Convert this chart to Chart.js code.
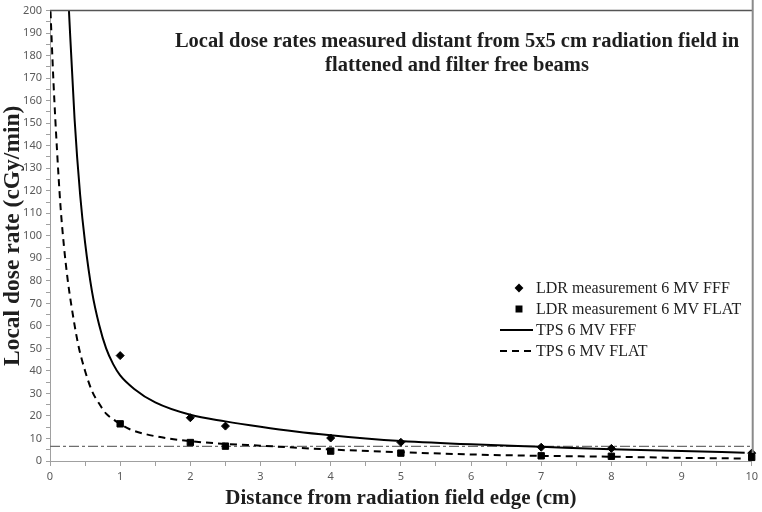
<!DOCTYPE html>
<html>
<head>
<meta charset="utf-8">
<script src="https://cdn.jsdelivr.net/npm/chart.js@4/dist/chart.umd.min.js"></script>
<style>
  html, body { margin: 0; padding: 0; background: #fff; }
  #wrap { width: 762px; height: 512px; }
</style>
</head>
<body>
<div id="wrap"><canvas id="doseChart" width="762" height="512"></canvas></div>
<script>
'use strict';

// ---- data ----
const measureX   = [1, 2, 2.5, 4, 5, 7, 8, 10];
const ldrFFF     = [46.8, 19.2, 15.5, 10.2, 8.3, 6.1, 5.6, 3.5];
const ldrFLAT    = [16.5, 8.2, 6.6, 4.4, 3.5, 2.3, 2.1, 1.6];

const tpsFFFX    = [0.2, 0.27, 0.35, 0.43, 0.5, 0.6, 0.7, 0.8, 0.9, 1.0, 1.2, 1.5, 2, 2.5, 3, 3.5, 4, 4.5, 5, 6, 7, 8, 9, 9.9];
const tpsFFF     = [245, 200, 152, 118, 97, 75, 60.5, 50, 43, 38, 32, 26, 20.5, 17.6, 15.2, 13.1, 11.4, 10.0, 8.9, 7.4, 6.3, 5.2, 4.4, 3.7];

const tpsFLATX   = [0, 0.05, 0.1, 0.15, 0.2, 0.25, 0.3, 0.4, 0.5, 0.6, 0.7, 0.8, 0.9, 1.0, 1.13, 1.5, 2, 2.5, 3, 4, 5, 6, 7, 8, 9, 9.9];
const tpsFLAT    = [205, 168, 138, 113, 95, 81, 70, 52, 40, 31, 25.5, 21, 18.5, 16.5, 14.2, 11, 8.8, 7.6, 6.8, 5.1, 3.9, 2.9, 2.3, 1.9, 1.4, 1.1];

const limitX     = [0, 10];
const limitY     = [6.5, 6.5];

const TITLE_LINES = [
  'Local dose rates measured distant from 5x5 cm radiation field in',
  'flattened and filter free beams',
];

const SERIF = '"Liberation Serif", "Times New Roman", serif';
const TICK_COLOR = '#5a5a5a';

const toPoints = (xs, ys) => xs.map((x, i) => ({ x, y: ys[i] }));

// title, frame lines and legend drawn on top of the plot
const decorPlugin = {
  id: 'decor',
  afterDraw(chart) {
    const { ctx, chartArea: a } = chart;
    ctx.save();

    // top frame line and right border
    ctx.strokeStyle = '#555';
    ctx.lineWidth = 1.5;
    ctx.beginPath();
    ctx.moveTo(a.left, a.top);
    ctx.lineTo(a.right + 1, a.top);
    ctx.stroke();
    ctx.strokeStyle = '#8a8a8a';
    ctx.lineWidth = 2;
    ctx.beginPath();
    ctx.moveTo(a.right + 1, 0);
    ctx.lineTo(a.right + 1, a.bottom - 8);
    ctx.stroke();

    // title
    ctx.fillStyle = '#1e1e1e';
    ctx.font = 'bold 20.5px ' + SERIF;
    ctx.textAlign = 'center';
    ctx.textBaseline = 'middle';
    TITLE_LINES.forEach((t, i) => ctx.fillText(t, 457, 42 + i * 24));

    // legend
    ctx.font = '16px ' + SERIF;
    ctx.textAlign = 'left';
    let row = 0;
    chart.data.datasets.forEach(ds => {
      if (!ds.label) return;
      const y = 288 + row * 21;
      ctx.fillStyle = '#000';
      ctx.strokeStyle = '#000';
      if (ds.showLine) {
        ctx.lineWidth = ds.borderWidth;
        ctx.setLineDash(ds.borderDash || []);
        ctx.beginPath();
        ctx.moveTo(500, y);
        ctx.lineTo(533, y);
        ctx.stroke();
        ctx.setLineDash([]);
      } else {
        Chart.helpers.drawPoint(ctx, {
          pointStyle: ds.pointStyle,
          radius: ds.pointRadius - 1,
          borderWidth: 1,
          rotation: 0,
        }, 519, y);
      }
      ctx.fillStyle = '#1e1e1e';
      ctx.fillText(ds.label, 536, y + 1);
      row++;
    });
    ctx.restore();
  },
};

new Chart(document.getElementById('doseChart'), {
  type: 'scatter',
  data: {
    datasets: [
      {
        label: 'LDR measurement 6 MV FFF',
        data: toPoints(measureX, ldrFFF),
        pointStyle: 'rectRot',
        pointRadius: 4,
        backgroundColor: '#000',
        borderColor: '#000',
        clip: false,
      },
      {
        label: 'LDR measurement 6 MV FLAT',
        data: toPoints(measureX, ldrFLAT),
        pointStyle: 'rect',
        pointRadius: 4.5,
        backgroundColor: '#000',
        borderColor: '#000',
        clip: false,
      },
      {
        label: 'TPS 6 MV FFF',
        data: toPoints(tpsFFFX, tpsFFF),
        showLine: true,
        pointRadius: 0,
        borderColor: '#000',
        borderWidth: 2,
        cubicInterpolationMode: 'monotone',
      },
      {
        label: 'TPS 6 MV FLAT',
        data: toPoints(tpsFLATX, tpsFLAT),
        showLine: true,
        pointRadius: 0,
        borderColor: '#000',
        borderWidth: 2,
        borderDash: [7, 5],
        cubicInterpolationMode: 'monotone',
      },
      {
        label: '',
        data: toPoints(limitX, limitY),
        showLine: true,
        pointRadius: 0,
        borderColor: '#6e6e6e',
        borderWidth: 1.3,
        borderDash: [10, 3, 3, 3],
      },
    ],
  },
  options: {
    responsive: false,
    animation: false,
    devicePixelRatio: 1,
    layout: { padding: { top: 5, right: 7, left: 0, bottom: 0 } },
    plugins: {
      legend: { display: false },
      tooltip: { enabled: false },
    },
    scales: {
      x: {
        type: 'linear',
        min: 0,
        max: 10,
        afterFit: s => { s.height = 51; },
        grid: { drawOnChartArea: false, color: '#a0a0a0', tickLength: 5 },
        border: { color: '#a0a0a0', width: 1 },
        ticks: {
          stepSize: 0.5,
          autoSkip: false,
          maxRotation: 0,
          padding: 4,
          color: TICK_COLOR,
          font: { family: '"Noto Sans", sans-serif', size: 11 },
          callback: v => Number.isInteger(v) ? v : '',
        },
        title: {
          display: true,
          text: 'Distance from radiation field edge (cm)',
          color: '#1e1e1e',
          font: { family: SERIF, size: 21, weight: 'bold' },
          padding: { top: 0, bottom: 1 },
        },
      },
      y: {
        type: 'linear',
        min: 0,
        max: 200,
        afterFit: s => { s.width = 50; },
        grid: { drawOnChartArea: false, color: '#a0a0a0', tickLength: 4 },
        border: { color: '#a0a0a0', width: 1 },
        ticks: {
          stepSize: 5,
          autoSkip: false,
          padding: 4,
          color: TICK_COLOR,
          font: { family: '"Noto Sans", sans-serif', size: 11 },
          callback: v => v % 10 === 0 ? v : '',
        },
        title: {
          display: true,
          text: 'Local dose rate (cGy/min)',
          color: '#1e1e1e',
          font: { family: SERIF, size: 23.5, weight: 'bold', lineHeight: 1 },
          padding: { top: 1, bottom: 0 },
        },
      },
    },
  },
  plugins: [decorPlugin],
});
</script>
</body>
</html>
